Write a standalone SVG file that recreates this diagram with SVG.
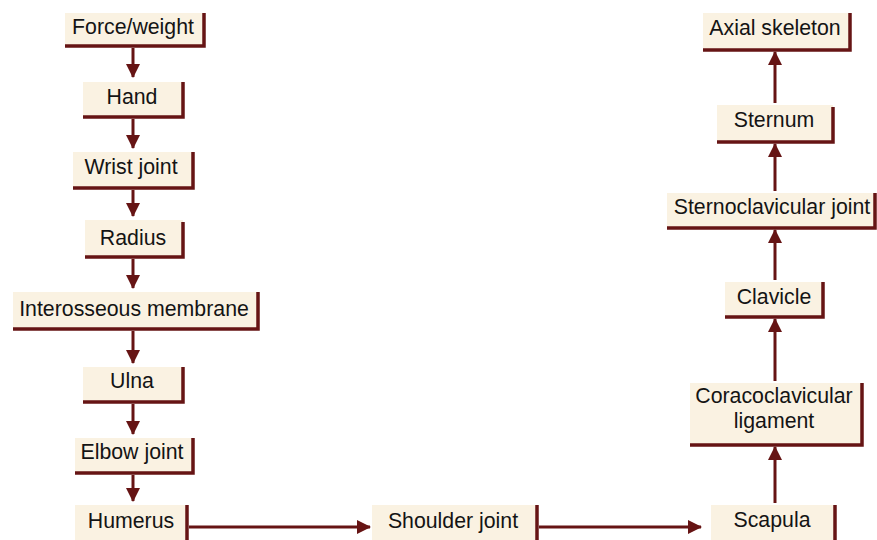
<svg xmlns="http://www.w3.org/2000/svg" width="877" height="540" viewBox="0 0 877 540">
<defs>
<style>
.box{fill:#faf2e2}
.sh{fill:none;stroke:#661414;stroke-width:3.5}
.t{font-family:"Liberation Sans",Arial,sans-serif;font-size:21.3px;fill:#141414;text-anchor:middle}
.c{fill:none;stroke:#661414;stroke-width:3}
</style>
<marker id="ah" markerUnits="userSpaceOnUse" markerWidth="14" markerHeight="14" viewBox="0 0 14 14" refX="13" refY="7" orient="auto">
<path d="M0,0 L14,7 L0,14 Z" fill="#661414"/>
</marker>
</defs>
<rect width="877" height="540" fill="#ffffff"/>

<g id="force-weight"><rect class="box" x="65" y="13" width="139" height="33"/><path class="sh" d="M204,13 V46 H65"/><text class="t" x="133" y="34">Force/weight</text></g>
<g id="hand"><rect class="box" x="83" y="82" width="100" height="35"/><path class="sh" d="M183,82 V117 H83"/><text class="t" x="132" y="104">Hand</text></g>
<g id="wrist-joint"><rect class="box" x="73" y="152" width="120" height="36"/><path class="sh" d="M193,152 V188 H73"/><text class="t" x="131" y="174">Wrist joint</text></g>
<g id="radius"><rect class="box" x="85" y="220" width="98" height="37"/><path class="sh" d="M183,222 V257 H85"/><text class="t" x="133" y="245">Radius</text></g>
<g id="interosseous-membrane"><rect class="box" x="13" y="292" width="245" height="37"/><path class="sh" d="M258,292 V329 H13"/><text class="t" x="134" y="316">Interosseous membrane</text></g>
<g id="ulna"><rect class="box" x="83" y="367" width="100" height="35"/><path class="sh" d="M183,367 V402 H83"/><text class="t" x="132" y="388">Ulna</text></g>
<g id="elbow-joint"><rect class="box" x="75" y="438" width="118" height="35"/><path class="sh" d="M193,438 V473 H75"/><text class="t" x="132" y="459">Elbow joint</text></g>
<g id="humerus"><rect class="box" x="75" y="505" width="112" height="40"/><path class="sh" d="M187,505 V545"/><text class="t" x="131" y="528">Humerus</text></g>
<g id="shoulder-joint"><rect class="box" x="372" y="505" width="165" height="40"/><path class="sh" d="M537,505 V545"/><text class="t" x="453" y="528">Shoulder joint</text></g>
<g id="scapula"><rect class="box" x="711" y="505" width="124" height="40"/><path class="sh" d="M835,505 V545"/><text class="t" x="772" y="527">Scapula</text></g>
<g id="coracoclavicular-ligament"><rect class="box" x="690" y="383" width="172" height="62"/><path class="sh" d="M862,383 V445 H690"/><text class="t" x="774" y="403">Coracoclavicular</text><text class="t" x="774" y="428">ligament</text></g>
<g id="clavicle"><rect class="box" x="725" y="282" width="98" height="35"/><path class="sh" d="M823,282 V317 H725"/><text class="t" x="774" y="304">Clavicle</text></g>
<g id="sternoclavicular-joint"><rect class="box" x="667" y="193" width="208" height="35"/><path class="sh" d="M875,193 V228 H667"/><text class="t" x="772" y="214">Sternoclavicular joint</text></g>
<g id="sternum"><rect class="box" x="717" y="105" width="116" height="37"/><path class="sh" d="M833,107 V142 H717"/><text class="t" x="774" y="127">Sternum</text></g>
<g id="axial-skeleton"><rect class="box" x="703" y="13" width="147" height="37"/><path class="sh" d="M850,13 V50 H703"/><text class="t" x="775" y="35">Axial skeleton</text></g>

<g id="connectors">
<path class="c" marker-end="url(#ah)" d="M133,48 V77"/>
<path class="c" marker-end="url(#ah)" d="M133,119 V148"/>
<path class="c" marker-end="url(#ah)" d="M133,190 V216"/>
<path class="c" marker-end="url(#ah)" d="M133,259 V288"/>
<path class="c" marker-end="url(#ah)" d="M133,331 V363"/>
<path class="c" marker-end="url(#ah)" d="M133,404 V434"/>
<path class="c" marker-end="url(#ah)" d="M133,475 V501"/>
<path class="c" marker-end="url(#ah)" d="M189,527 H370"/>
<path class="c" marker-end="url(#ah)" d="M539,527 H701"/>
<path class="c" marker-end="url(#ah)" d="M775,503 V447"/>
<path class="c" marker-end="url(#ah)" d="M775,381 V319"/>
<path class="c" marker-end="url(#ah)" d="M775,280 V230"/>
<path class="c" marker-end="url(#ah)" d="M775,191 V144"/>
<path class="c" marker-end="url(#ah)" d="M775,103 V52"/>
</g>
</svg>
